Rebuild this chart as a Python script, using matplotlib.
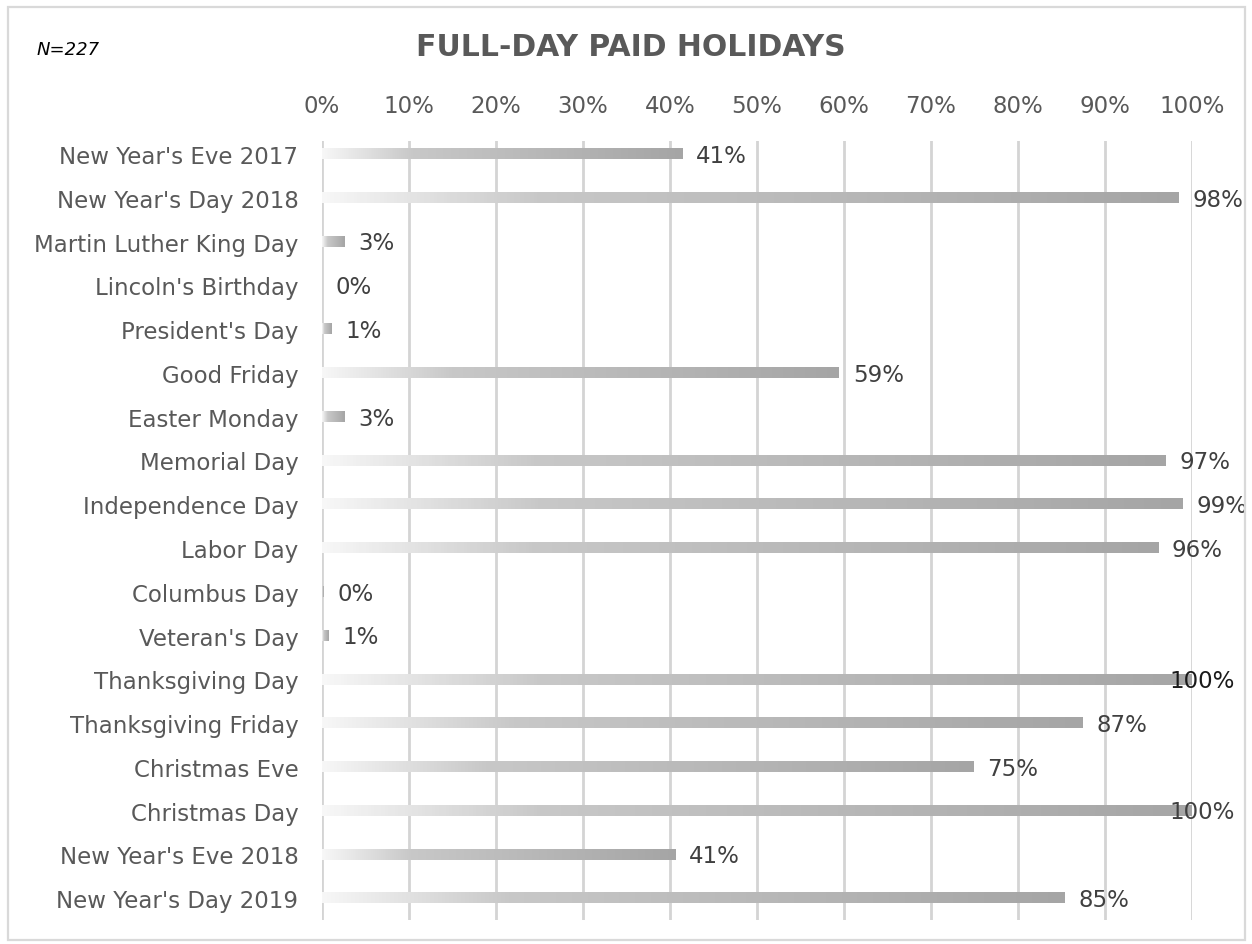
import numpy as np
import matplotlib
matplotlib.use("Agg")
import matplotlib.pyplot as plt
from matplotlib.colors import LinearSegmentedColormap
from matplotlib.patches import Rectangle

categories = ["New Year's Eve 2017", "New Year's Day 2018", "Martin Luther King Day",
              "Lincoln's Birthday", "President's Day", "Good Friday", "Easter Monday",
              "Memorial Day", "Independence Day", "Labor Day", "Columbus Day",
              "Veteran's Day", "Thanksgiving Day", "Thanksgiving Friday", "Christmas Eve",
              "Christmas Day", "New Year's Eve 2018", "New Year's Day 2019"]
values = [41.4, 98.4, 2.6, 0.0, 1.1, 59.4, 2.6, 97.0, 98.9, 96.1, 0.2, 0.7,
          100.0, 87.4, 74.9, 100.0, 40.6, 85.4]
xticks = [0, 10, 20, 30, 40, 50, 60, 70, 80, 90, 100]
title = "FULL-DAY PAID HOLIDAYS"
note = "N=227"

plt.rcParams['font.family'] = ['DejaVu Sans']
W, H = 1252, 945
fig = plt.figure(figsize=(W / 100, H / 100), dpi=100)
fig.patch.set_facecolor('white')

# outer border
fig.add_artist(Rectangle((8 / W, 1 - 941 / H), (1245 - 8) / W, (941 - 8) / H,
                         transform=fig.transFigure, fill=False,
                         edgecolor='#d9d9d9', linewidth=1.6))

ax = fig.add_axes([322 / W, 1 - 921 / H, (1192 - 322) / W, (921 - 142) / H])
n = len(categories)

for t in xticks:
    ax.axvline(t, color='#d4d4d4', linewidth=2, zorder=0)

cmap = LinearSegmentedColormap.from_list(
    'g', [(0, '#f7f7f7'), (0.25, '#c8c8c8'), (1.0, '#a5a5a5')])
grad = np.linspace(0, 1, 256).reshape(1, -1)
bh = 0.24
for i, v in enumerate(values):
    if v <= 0:
        continue
    ax.imshow(grad, cmap=cmap, extent=(0, v, i + bh / 2, i - bh / 2),
              aspect='auto', interpolation='bilinear', zorder=2)
ax.set_xlim(0, 100)
ax.set_ylim(n - 1 + 0.5, -0.3)

for i, v in enumerate(values):
    lab = f"{round(v):d}%"
    if round(v) >= 100:
        x = 97.4
        col = '#1a1a1a' if i == 12 else '#404040'
    else:
        x = v + 1.6
        col = '#404040'
    ax.text(x, i + 0.03, lab, ha='left', va='center', fontsize=16.5, color=col,
            zorder=3, clip_on=False)

ax.set_yticks(range(n))
ax.set_yticklabels(categories, fontsize=16.5, color='#595959')
ax.set_xticks(xticks)
ax.set_xticklabels([f"{t}%" for t in xticks], fontsize=16.5, color='#595959')
ax.xaxis.tick_top()
ax.tick_params(axis='both', length=0)
ax.tick_params(axis='x', pad=17)
ax.tick_params(axis='y', pad=17)
for s in ax.spines.values():
    s.set_visible(False)
ax.set_facecolor('none')

fig.text(631 / W, 1 - 47 / H, title, ha='center', va='center', fontsize=21.5,
         fontweight='bold', color='#595959')
fig.text(37 / W, 1 - 50 / H, note, ha='left', va='center', fontsize=13,
         fontstyle='italic', color='#000000')

fig.savefig('out.png', dpi=100)
